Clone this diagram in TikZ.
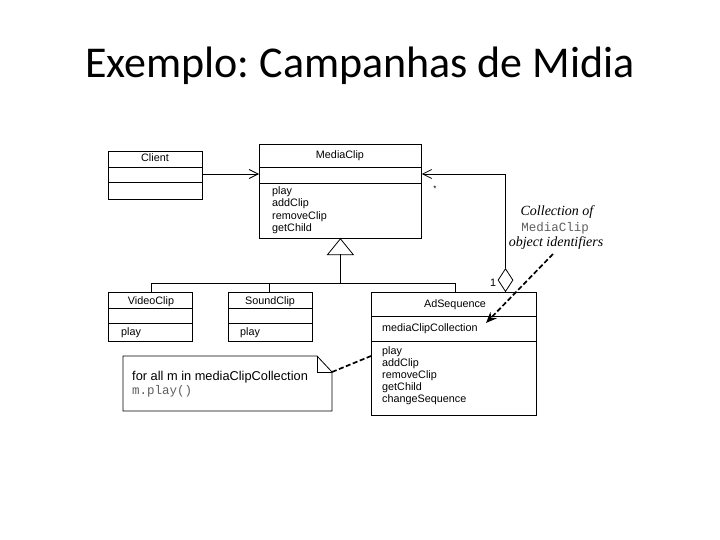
\documentclass[tikz,border=0pt]{standalone}
\usepackage{fontspec}
\setmainfont{Carlito}
\newfontfamily\umlf{Liberation Sans}
\newfontfamily\serif{Liberation Serif}
\newfontfamily\monof{Liberation Mono}
\usetikzlibrary{arrows.meta,shapes.geometric}
\definecolor{codegray}{RGB}{95,95,95}
\frenchspacing
\begin{document}
\begin{tikzpicture}[x=1pt,y=-1pt,
  cls/.style={draw, line width=0.8pt, inner sep=0pt, anchor=north west},
  sep/.style={line width=0.8pt},
  txt/.style={font=\umlf\fontsize{10.8}{12}\selectfont, inner sep=0pt, anchor=base west},
  ctxt/.style={txt, anchor=base},
  open/.style={line width=0.8pt, -{Straight Barb[length=9pt,width=9pt,line width=0.8pt]}},
  dasharrow/.style={line width=1.7pt, dash pattern=on 5pt off 2.5pt, -{Stealth[length=11pt,width=9pt]}},
  dashline/.style={line width=1.7pt, dash pattern=on 5pt off 2.5pt},
  itxt/.style={font=\serif\itshape\fontsize{14}{15}\selectfont, inner sep=0pt, anchor=base, text=black},
  mtxt/.style={font=\monof\fontsize{12.5}{14}\selectfont, inner sep=0pt, text=codegray}]
\useasboundingbox (0,0) rectangle (720,540);
\fill[white] (0,0) rectangle (720,540);

% title
\node[font=\fontsize{44}{52}\selectfont, anchor=base, inner sep=0pt] (title) at (360,78) {Exemplo: Campanhas de Midia};

% Client
\node[cls, minimum width=94pt, minimum height=48pt] (client) at (108,151) {};
\draw[sep] (client.west |- 0,167) -- (client.east |- 0,167);
\draw[sep] (client.west |- 0,182) -- (client.east |- 0,182);
\node[ctxt] (clientname) at (155,162) {Client};

% MediaClip
\node[cls, minimum width=162pt, minimum height=94pt] (mediaclip) at (259,144) {};
\draw[sep] (mediaclip.west |- 0,167) -- (mediaclip.east |- 0,167);
\draw[sep] (mediaclip.west |- 0,183) -- (mediaclip.east |- 0,183);
\node[ctxt] (mcname) at (340,159) {MediaClip};
\node[txt] (mc1) at (272,195) {play};
\node[txt] (mc2) at (272,207) {addClip};
\node[txt] (mc3) at (272,219) {removeClip};
\node[txt] (mc4) at (272,231) {getChild};

% VideoClip
\node[cls, minimum width=84pt, minimum height=49pt] (videoclip) at (108,292) {};
\draw[sep] (videoclip.west |- 0,308) -- (videoclip.east |- 0,308);
\draw[sep] (videoclip.west |- 0,323) -- (videoclip.east |- 0,323);
\node[ctxt] (vcname) at (151,304) {VideoClip};
\node[txt] (vc1) at (121,335) {play};

% SoundClip
\node[cls, minimum width=84pt, minimum height=49pt] (soundclip) at (228,292) {};
\draw[sep] (soundclip.west |- 0,308) -- (soundclip.east |- 0,308);
\draw[sep] (soundclip.west |- 0,323) -- (soundclip.east |- 0,323);
\node[ctxt] (scname) at (270,304) {SoundClip};
\node[txt] (sc1) at (240,335) {play};

% AdSequence
\node[cls, minimum width=165pt, minimum height=123pt] (adseq) at (371,292) {};
\draw[sep] (adseq.west |- 0,316) -- (adseq.east |- 0,316);
\draw[sep] (adseq.west |- 0,341) -- (adseq.east |- 0,341);
\node[ctxt] (asname) at (455,307) {AdSequence};
\node[txt] (attr) at (382,331) {mediaClipCollection};
\node[txt] (as1) at (382,354) {play};
\node[txt] (as2) at (382,366) {addClip};
\node[txt] (as3) at (382,378) {removeClip};
\node[txt] (as4) at (382,390) {getChild};
\node[txt] (as5) at (382,402) {changeSequence};

% Client -> MediaClip
\draw[open] (client.east |- 0,174) -- (mediaclip.west |- 0,174);

% generalization
\draw[sep] (mediaclip.south) -- ++(-13,16) -- ++(26,0) -- cycle;
\draw[sep] (mediaclip.south |- 0,254) -- (mediaclip.south |- 0,283);
\draw[sep] (151,292) -- (151,283) -- (455,283) -- (455,292);
\draw[sep] (269,283) -- (269,292);

% aggregation
\node[diamond, draw, line width=0.8pt, inner sep=0pt, minimum width=15pt, minimum height=23pt, anchor=south, fill=white] (agg) at (505.5,292) {};
\draw[open] (agg.north) -- (agg.north |- 0,174) -- (mediaclip.east |- 0,174);
\node[font=\umlf\fontsize{8}{9}\selectfont, inner sep=0pt] (star) at (435,189) {*};
\node[txt, anchor=base] (one) at (493,286) {1};

% collection note
\node[itxt] (cn1) at (557,215) {Collection of};
\node[mtxt, anchor=base] (cn2) at (555,231) {MediaClip};
\node[itxt] (cn3) at (556,246) {object identifiers};
\coordinate (cnstart) at (553,254);
\coordinate (cntip) at (486,323);
\draw[dasharrow] (cnstart) -- (cntip);

% code note
\draw[line width=0.8pt] (123,356) -- (317,356) -- (332,372) -- (332,411) -- (123,411) -- cycle;
\draw[line width=0.8pt] (317,356) -- (317,372) -- (332,372);
\coordinate (notecorner) at (332,372);
\node[font=\umlf\fontsize{12.8}{14}\selectfont, inner sep=0pt, anchor=base west] (n1) at (132,380) {for all m in mediaClipCollection};
\node[mtxt, anchor=base west] (n2) at (132,394) {m.play()};
\draw[dashline] (notecorner) -- (adseq.west |- 0,356);
\end{tikzpicture}
\end{document}
